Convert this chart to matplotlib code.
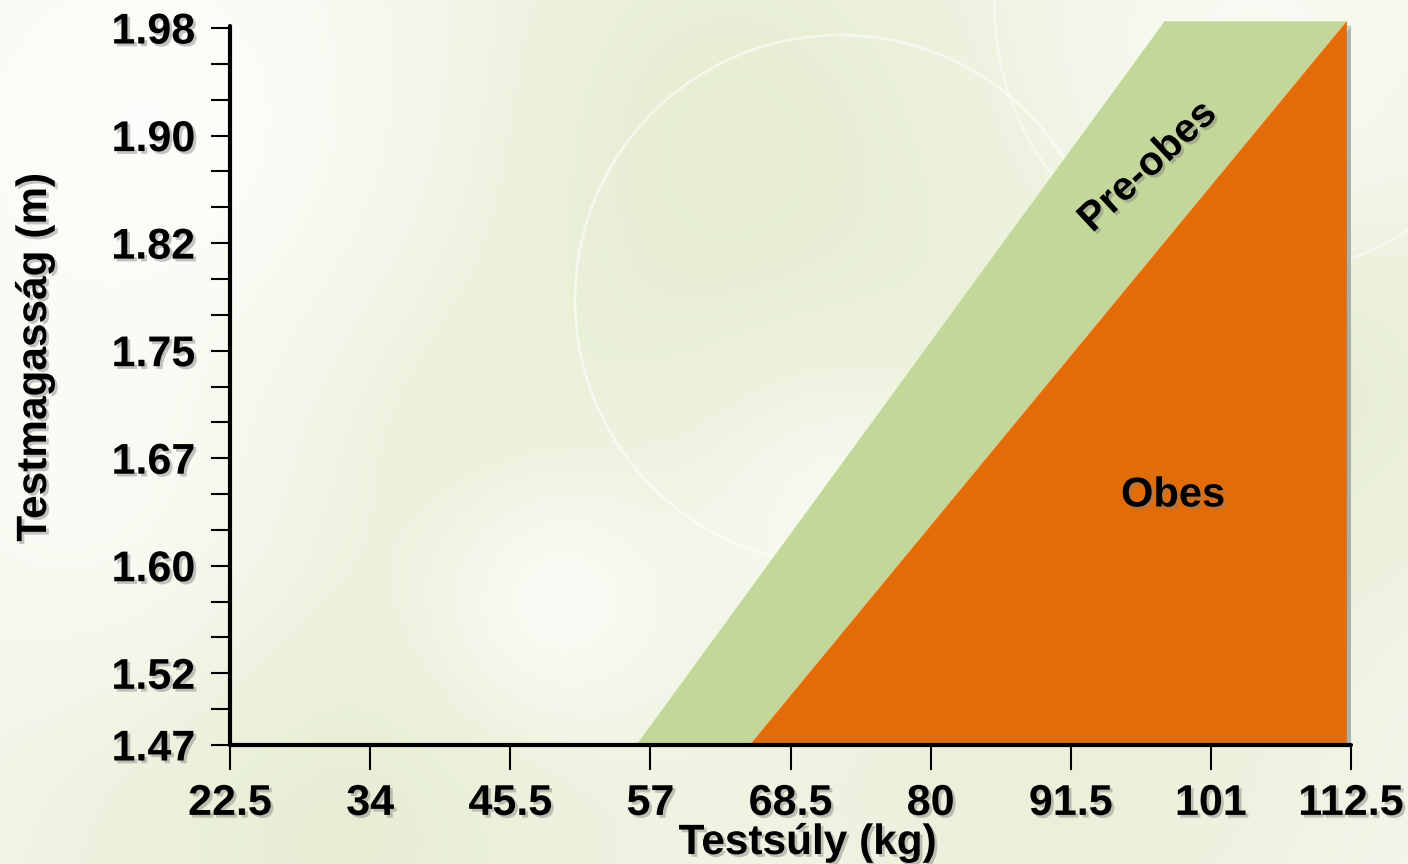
import numpy as np
import matplotlib.pyplot as plt
import matplotlib.patheffects as pe
from matplotlib.patches import Polygon, Circle

# -------------------------
# Daten
# -------------------------

weight_labels = ["22.5", "34", "45.5", "57", "68.5", "80", "91.5", "101", "112.5"]
weight_pos = np.arange(len(weight_labels))

# Körpergröße in Zoll (Raster der Achse), Beschriftung in Metern
height_inch_all = np.arange(58, 79)
height_inch_major = [58, 60, 63, 66, 69, 72, 75, 78]
height_labels = ["1.47", "1.52", "1.60", "1.67", "1.75", "1.82", "1.90", "1.98"]
INCH = 0.0254

# Grenzlinien der Bereiche (Position auf der Gewichtsachse, Höhe in m)
band_bottom = 1.4732
band_top = 1.986
preobese_left = [2.90, 6.67]   # unten, oben
obese_left = [3.71, 7.97]      # unten, oben
band_right = 7.97

COLOR_PRE = "#c4d79b"
COLOR_OB = "#e36c0a"

plt.rcParams["font.family"] = ["Liberation Sans", "DejaVu Sans"]
plt.rcParams["font.weight"] = "bold"

fig = plt.figure(figsize=(14.08, 8.64), dpi=100)

# -------------------------
# Hintergrund
# -------------------------

H, W = 864, 1408
yy, xx = np.mgrid[0:H, 0:W]
img = np.ones((H, W, 3)) * np.array([244, 247, 236]) / 255.0


def blob(cx, cy, r, col, strength):
    global img
    g = np.exp(-(((xx - cx) ** 2 + (yy - cy) ** 2) / (2 * r ** 2)))[..., None]
    img = img * (1 - strength * g) + np.array(col)[None, None, :] / 255.0 * strength * g


green = (228, 236, 206)
white = (254, 254, 252)
blob(700, 150, 230, green, 0.9)
blob(420, 420, 180, green, 0.7)
blob(1300, 380, 160, green, 0.8)
blob(330, 820, 220, green, 0.8)
blob(1050, 760, 200, green, 0.6)
blob(900, 420, 160, green, 0.5)
blob(150, 130, 220, white, 0.9)
blob(560, 600, 90, white, 0.8)
blob(1250, 80, 120, white, 0.6)
blob(850, 520, 110, white, 0.7)
blob(100, 500, 150, white, 0.6)

bg = fig.add_axes([0, 0, 1, 1], zorder=-1)
bg.imshow(img, extent=[0, W, H, 0], aspect="auto")
bg.add_patch(Circle((840, 300), 265, fill=False, ec="white", lw=2, alpha=0.55))
bg.add_patch(Circle((1260, 10), 265, fill=False, ec="white", lw=2, alpha=0.5))
bg.set_xlim(0, W)
bg.set_ylim(H, 0)
bg.axis("off")

# -------------------------
# Diagramm
# -------------------------

ax = fig.add_axes([230 / 1408, 1 - 745 / 864, 1121 / 1408, 725 / 864])
ax.patch.set_alpha(0)

shadow = [pe.SimplePatchShadow(offset=(4, -3), shadow_rgbFace="gray", alpha=0.35), pe.Normal()]

pre = Polygon([(preobese_left[0], band_bottom), (preobese_left[1], band_top),
               (band_right, band_top), (band_right, band_bottom)],
              closed=True, fc=COLOR_PRE, ec="none", zorder=1)
pre.set_path_effects(shadow)
ax.add_patch(pre)

ob = Polygon([(obese_left[0], band_bottom), (band_right, band_top),
              (band_right, band_bottom)],
             closed=True, fc=COLOR_OB, ec="none", zorder=2)
ob.set_path_effects(shadow)
ax.add_patch(ob)

ax.set_xlim(0, len(weight_labels) - 1)
ax.set_ylim(58 * INCH, band_top + 0.0009)

text_shadow = [pe.withSimplePatchShadow(offset=(2, -2), shadow_rgbFace="gray", alpha=0.45)]

ax.text(6.55, 1.883, "Pre-obes", rotation=43, rotation_mode="anchor",
        ha="center", va="center", fontsize=29, fontweight="bold",
        path_effects=text_shadow, zorder=3)
ax.text(6.73, 1.650, "Obes", ha="center", va="center", fontsize=30,
        fontweight="bold", path_effects=text_shadow, zorder=3)

# Achsen
for side in ["top", "right"]:
    ax.spines[side].set_visible(False)
for side in ["left", "bottom"]:
    sp = ax.spines[side]
    sp.set_linewidth(3)
    sp.set_capstyle("round")
    sp.set_zorder(4)
    sp.set_path_effects([pe.SimplePatchShadow(offset=(2, -2), shadow_rgbFace="gray", alpha=0.4), pe.Normal()])
ax.spines["left"].set_bounds(58 * INCH, 1.9825)

ax.set_xticks(weight_pos)
ax.set_xticklabels(weight_labels)
ax.set_yticks(height_inch_all * INCH, minor=True)
ax.set_yticks(np.array(height_inch_major) * INCH)
ax.set_yticklabels(height_labels)

ax.tick_params(axis="x", direction="out", length=18, width=1.5, pad=10, labelsize=31)
ax.tick_params(axis="y", which="both", direction="out", length=14, width=1.5, pad=11, labelsize=31)

for lab in ax.get_xticklabels() + ax.get_yticklabels():
    lab.set_fontweight("bold")
    lab.set_path_effects(text_shadow)

fig.text(808 / 1408, 1 - 843 / 864, "Testsúly (kg)", ha="center", va="center",
         fontsize=30.5, fontweight="bold", path_effects=text_shadow)
fig.text(35 / 1408, 1 - 357 / 864, "Testmagasság (m)", ha="center", va="center",
         rotation=90, fontsize=30.5, fontweight="bold", path_effects=text_shadow)

plt.savefig("out.png", dpi=100)
